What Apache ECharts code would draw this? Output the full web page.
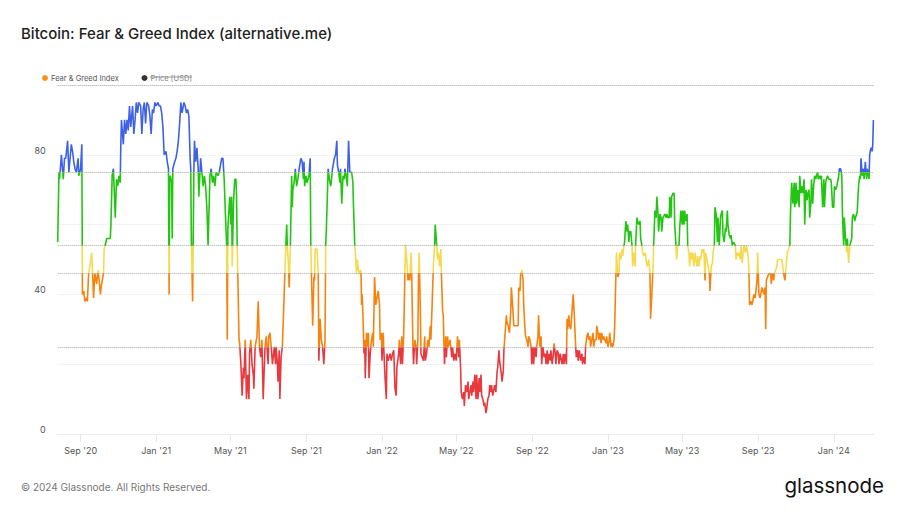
<!DOCTYPE html>
<html><head><meta charset="utf-8">
<script src="https://cdn.jsdelivr.net/npm/echarts@6/dist/echarts.min.js"></script>
<style>html,body{margin:0;padding:0;background:#fff}#chart{width:906px;height:512px}</style>
</head><body><div id="chart"></div>
<script>
// Fear & Greed index readings: [days since startDate, index value]
const startDate = '2020-07-26';
const fgPoints = [
[0,55],[2,75],[3,73],[6,80],[9,73],[11,79],[13,79],[16,84],[18,75],[22,83],[24,81],[26,78],[28,76],[30,75],[33,79],[34,74],[37,76],[39,83],[40,40],[42,41],[44,38],[47,39],[48,38],[50,46],[52,48],[55,52],[58,39],[60,46],[63,43],[65,47],[67,44],[69,40],[71,43],[74,46],[75,53],[78,55],[79,56],[82,56],[85,56],[86,60],[88,74],[90,76],[93,62],[95,73],[97,71],[99,74],[101,72],[102,83],[103,90],[106,83],[108,90],[110,86],[112,90],[114,87],[116,94],[118,88],[121,94],[123,86],[125,90],[127,95],[129,92],[131,95],[134,94],[136,86],[138,93],[140,95],[142,89],[144,95],[147,94],[149,91],[151,86],[153,93],[155,92],[157,95],[159,94],[162,95],[164,94],[166,94],[168,92],[170,88],[172,80],[175,81],[177,78],[179,76],[180,40],[181,73],[182,74],[184,72],[185,56],[186,76],[189,78],[191,79],[193,81],[195,84],[197,89],[199,95],[201,92],[204,95],[206,94],[208,92],[210,93],[212,91],[214,79],[215,76],[216,55],[218,38],[219,56],[220,75],[221,84],[223,78],[225,82],[227,76],[228,68],[231,79],[233,75],[235,71],[237,74],[239,71],[241,65],[243,54],[246,74],[248,76],[250,72],[252,74],[254,71],[256,75],[259,74],[261,75],
[262,76],[265,79],[267,79],[269,73],[271,63],[273,54],[274,27],[275,59],[276,59],[278,68],[280,60],[281,68],[282,48],[284,66],[286,73],[288,73],[289,68],[290,54],[291,46],[293,27],[294,26],[296,20],[298,11],[300,19],[301,16],[303,27],[305,10],[307,17],[309,10],[310,23],[312,27],[314,20],[316,17],[317,13],[319,25],[322,28],[324,38],[326,25],[328,22],[330,27],[332,10],[335,25],[337,28],[340,20],[341,28],[343,29],[345,25],[347,20],[350,25],[352,20],[353,25],[355,20],[356,15],[358,24],[359,10],[361,22],[363,25],[365,35],[367,46],[368,51],[370,60],[371,54],[373,48],[374,42],[376,54],[378,74],[379,65],[380,70],[382,72],[384,76],[386,71],[388,73],[391,77],[393,79],[395,78],[397,73],[398,78],[399,71],[401,74],[403,72],[406,74],[408,79],[409,54],[410,46],[412,31],[414,45],[415,44],[416,53],[419,53],[421,46],[422,21],[424,33],[426,27],[428,25],[430,20],[432,27],[433,54],[434,58],[436,70],[437,76],[439,73],[441,71],[442,72],[444,76],[447,79],[449,80],[451,84],[452,77],[454,75],[456,72],[457,76],[459,66],[461,74],[463,73],[464,76],[466,74],[468,71],[470,84],[472,75],[475,75],[477,72],[478,65],[480,54],[481,52],[483,46],[484,50],[486,47],[488,46],[490,47],[491,37],[492,40],[493,35],[495,23],[496,27],[497,16],[499,29],[501,25],[502,29],[503,16],[505,23],[507,27],[509,29],[510,25],[512,45],[514,37],[517,40],[518,41],[520,37],[521,27],
[523,29],[524,21],[526,29],[527,24],[529,16],[531,10],[532,23],[534,21],[537,23],[539,21],[541,23],[543,24],[545,13],[547,11],[548,19],[551,23],[552,27],[554,20],[556,28],[557,20],[559,28],[561,46],[562,54],[564,50],[566,44],[567,46],[569,44],[571,52],[572,46],[574,25],[575,20],[577,27],[579,25],[580,20],[582,27],[583,46],[584,52],[585,44],[586,35],[587,23],[589,22],[591,21],[593,28],[594,21],[596,23],[598,27],[600,25],[602,31],[603,27],[605,37],[607,48],[609,54],[610,60],[612,55],[614,50],[615,52],[617,48],[619,53],[620,46],[622,35],[623,34],[625,20],[627,28],[628,22],[630,28],[631,25],[634,27],[635,25],[637,22],[638,25],[640,21],[642,23],[644,21],[646,28],[648,22],[649,27],[651,19],[652,12],[654,10],[656,12],[657,8],[659,14],[661,12],[663,15],[664,10],[666,12],[668,14],[669,11],[671,15],[672,12],[674,17],[676,10],[677,17],[679,10],[681,16],[682,12],[684,17],[685,11],[687,10],[689,8],[690,9],[692,6],[693,7],[695,10],[697,11],[698,14],[700,12],[701,14],[703,11],[705,13],[706,14],[708,12],[710,18],[711,19],[713,24],[714,21],[717,17],[718,15],[720,18],[721,24],[723,29],[725,34],[726,32],[728,31],[730,29],[732,35],[733,42],[735,37],[737,31],[738,31],[740,31],[741,31],[744,31],[745,42],[747,41],[748,46],[750,47],[752,44],[753,37],[755,30],[756,28],[758,27],[760,25],[761,28],[763,27],[765,25],[766,20],[768,25],[769,20],[771,25],[773,22],[774,25],[776,28],[777,34],[779,25],[781,28],[782,20],[784,25],[786,22],
[788,23],[789,20],[791,24],[792,20],[794,23],[796,21],[797,24],[799,20],[801,23],[802,26],[804,23],[805,20],[807,24],[809,23],[810,20],[812,23],[813,22],[815,20],[817,23],[818,20],[820,23],[822,20],[823,33],[824,30],[826,34],[827,31],[829,30],[831,35],[833,40],[835,33],[837,25],[838,22],[840,24],[841,21],[843,24],[845,21],[847,23],[848,20],[850,22],[852,20],[853,25],[855,28],[857,29],[858,27],[860,28],[861,25],[863,27],[865,29],[866,25],[868,27],[870,27],[871,31],[873,29],[874,27],[876,29],[878,26],[879,29],[881,27],[882,28],[884,27],[886,26],[887,28],[889,25],[891,27],[892,29],[894,25],[895,26],[897,25],[899,27],[900,31],[902,46],[903,52],[905,45],[907,46],[908,52],[910,50],[912,53],[913,51],[915,54],[916,55],[918,61],[920,58],[921,60],[923,55],[924,58],[926,58],[928,54],[929,48],[931,52],[933,48],[934,55],[936,62],[937,61],[939,60],[941,61],[942,56],[944,54],[945,52],[947,51],[949,52],[950,51],[952,48],[954,49],[955,50],[957,46],[958,33],[960,40],[962,48],[963,54],[965,64],[967,62],[968,68],[970,63],[971,58],[973,63],[975,62],[976,58],[978,62],[979,62],[981,63],[983,62],[984,63],[986,62],[988,62],[989,68],[991,62],[992,68],[994,69],[996,69],[997,60],[999,54],[1000,50],[1002,54],[1004,54],[1005,59],[1007,64],[1009,60],[1010,64],[1012,60],[1013,64],[1015,61],[1017,63],[1018,54],[1020,52],[1021,48],[1023,52],[1025,50],[1026,52],[1028,48],[1030,52],[1031,50],[1033,48],[1034,51],[1036,48],[1038,51],[1039,50],[1041,53],[1042,52],[1044,53],[1046,44],[1047,52],[1049,50],
[1050,50],[1051,48],[1053,46],[1054,41],[1056,48],[1058,49],[1059,52],[1061,54],[1062,65],[1064,63],[1066,55],[1067,62],[1069,54],[1071,62],[1072,63],[1074,64],[1075,57],[1077,55],[1079,59],[1080,58],[1082,64],[1083,60],[1085,57],[1087,56],[1088,57],[1090,54],[1092,55],[1093,55],[1095,54],[1096,50],[1098,52],[1100,51],[1101,52],[1103,50],[1104,54],[1106,49],[1108,53],[1109,54],[1111,52],[1113,54],[1114,53],[1116,50],[1117,46],[1118,37],[1120,38],[1122,37],[1123,38],[1125,40],[1127,39],[1128,39],[1130,44],[1131,52],[1133,40],[1135,39],[1136,40],[1138,42],[1139,42],[1141,40],[1143,42],[1144,30],[1145,44],[1147,45],[1149,46],[1150,46],[1152,46],[1153,43],[1155,46],[1157,44],[1158,46],[1160,47],[1162,48],[1163,50],[1165,50],[1166,50],[1168,50],[1170,50],[1171,50],[1173,46],[1175,44],[1176,46],[1178,50],[1179,52],[1181,53],[1183,54],[1184,63],[1185,63],[1186,72],[1188,66],[1190,72],[1191,65],[1193,72],[1194,66],[1196,70],[1198,65],[1199,74],[1201,69],[1203,71],[1204,69],[1206,73],[1207,60],[1209,70],[1211,67],[1212,69],[1214,70],[1215,62],[1217,66],[1218,73],[1220,66],[1221,70],[1223,74],[1225,73],[1226,74],[1228,75],[1229,73],[1231,74],[1233,73],[1234,74],[1236,65],[1238,73],[1239,65],[1241,72],[1242,73],[1244,74],[1246,73],[1247,73],[1249,73],[1250,72],[1252,65],[1254,65],[1255,71],[1257,70],[1259,71],[1260,72],[1262,74],[1263,76],[1265,76],[1267,74],[1268,63],[1270,54],[1271,62],[1273,56],[1275,52],[1276,56],[1278,49],[1280,54],[1281,54],[1283,56],[1284,62],[1286,63],[1288,61],[1289,62],[1291,63],[1292,64],[1294,71],[1296,74],[1297,73],[1298,79],[1300,74],[1302,76],[1303,73],[1305,78],[1307,73],[1308,76],[1310,74],[1311,73],[1312,80],[1314,82],[1316,81],[1317,83],[1318,90]
];
const axisEndDay = 1319;
const xTickDates = ['2020-09-01','2021-01-01','2021-05-01','2021-09-01','2022-01-01','2022-05-01','2022-09-01','2023-01-01','2023-05-01','2023-09-01','2024-01-01'];
const xTickLabels = ["Sep '20","Jan '21","May '21","Sep '21","Jan '22","May '22","Sep '22","Jan '23","May '23","Sep '23","Jan '24"];
const yTickLabels = [0, 40, 80];
const zoneBreaks = [25, 46, 54, 75];
const zoneColors = ['#e8393f', '#f7830f', '#f5da4f', '#22c511', '#3e61e6'];
const refLines = [25, 46, 54, 75, 100];

const DAY = 86400000;
const startMs = Date.parse(startDate);
const tickDays = xTickDates.map(s => Math.round((Date.parse(s) - startMs) / DAY));

const pieces = zoneColors.map((c, i) => {
  const p = { color: c };
  if (i > 0) p.gte = zoneBreaks[i - 1];
  if (i < zoneBreaks.length) p.lt = zoneBreaks[i];
  return p;
});

const chart = echarts.init(document.getElementById('chart'), null, { renderer: 'svg' });
chart.setOption({
  animation: false,
  backgroundColor: '#fff',
  title: {
    text: 'Bitcoin: Fear & Greed Index (alternative.me)',
    left: 21, top: 26, padding: 0,
    textStyle: { fontFamily: 'Inter', fontSize: 15, fontWeight: 500, color: '#222' }
  },
  legend: [
    { data: [{ name: 'Fear & Greed Index', icon: 'circle', itemStyle: { color: '#f7931a' } }],
      left: 42, top: 74, padding: 0, itemWidth: 6, itemHeight: 6, itemGap: 5, selectedMode: false,
      textStyle: { fontFamily: 'Inter', fontSize: 7.5, color: '#555', padding: [0, 0, 0, -2] } },
    { data: [{ name: 'Price [USD]', icon: 'circle', itemStyle: { color: '#333' } }],
      left: 141.5, top: 74, padding: 0, itemWidth: 6, itemHeight: 6, selectedMode: false,
      textStyle: { fontFamily: 'Inter', fontSize: 7.5, color: '#888', padding: [0, 0, 0, -2] } }
  ],
  grid: { left: 57.7, right: 32, top: 85, bottom: 78 },
  xAxis: {
    type: 'value', min: 0, max: axisEndDay,
    axisLine: { show: true, lineStyle: { color: '#ececec' } },
    axisTick: { show: true, customValues: tickDays, length: 8, lineStyle: { color: '#e6e6e6' } },
    axisLabel: {
      customValues: tickDays, margin: 12, fontFamily: 'Inter', fontSize: 9, color: '#555',
      formatter: v => {
        const i = tickDays.indexOf(Math.round(v));
        return i >= 0 ? xTickLabels[i] : '';
      }
    },
    splitLine: { show: false }
  },
  yAxis: {
    type: 'value', min: 0, max: 100, interval: 20,
    axisLine: { show: false }, axisTick: { show: false },
    splitLine: { show: true, lineStyle: { color: '#f3f3f3' } },
    axisLabel: {
      margin: 12, verticalAlign: 'bottom', fontFamily: 'Inter', fontSize: 9, color: '#555',
      formatter: v => yTickLabels.indexOf(v) >= 0 ? String(v) : ''
    }
  },
  visualMap: { show: false, type: 'piecewise', seriesIndex: 1, dimension: 1, pieces: pieces },
  series: [
    { name: 'Price [USD]', type: 'line', data: [], color: '#333', z: 1,
      markLine: { silent: true, symbol: 'none', label: { show: false },
        lineStyle: { type: 'dotted', color: '#aaa', width: 1 },
        data: refLines.map(v => ({ yAxis: v })) } },
    { name: 'Fear & Greed Index', type: 'line', data: fgPoints, showSymbol: false, z: 3,
      lineStyle: { width: 1.6 } }
  ],
  graphic: [
    { type: 'line', shape: { x1: 150, y1: 77, x2: 192, y2: 77 }, style: { stroke: '#888', lineWidth: 0.8 } },
    { type: 'text', left: 21, top: 482, style: { text: '© 2024 Glassnode. All Rights Reserved.', font: '10px Inter', fill: '#777' } },
    { type: 'text', right: 22, top: 475, style: { text: 'glassnode', font: '400 20.5px Inter', fill: '#111' } }
  ]
});
</script>
</body></html>
